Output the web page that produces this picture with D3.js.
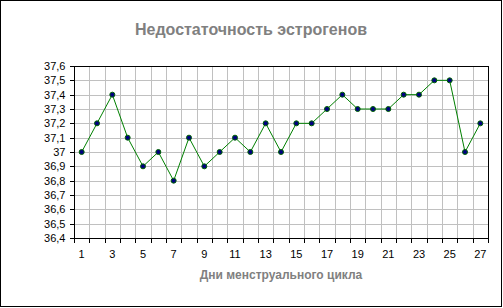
<!DOCTYPE html>
<html><head><meta charset="utf-8">
<script src="https://cdn.jsdelivr.net/npm/d3@7"></script>
<style>body{margin:0;background:#fff}svg{display:block}</style>
</head><body>
<svg id="c" width="503" height="308"></svg>
<script>
const days = d3.range(1, 28);
const temps = [37.0,37.2,37.4,37.1,36.9,37.0,36.8,37.1,36.9,37.0,37.1,37.0,37.2,37.0,37.2,37.2,37.3,37.4,37.3,37.3,37.3,37.4,37.4,37.5,37.5,37.0,37.2];
const yTicks = [36.4,36.5,36.6,36.7,36.8,36.9,37.0,37.1,37.2,37.3,37.4,37.5,37.6];
const yTickLabels = ["36,4","36,5","36,6","36,7","36,8","36,9","37","37,1","37,2","37,3","37,4","37,5","37,6"];
const xLabelDays = [1,3,5,7,9,11,13,15,17,19,21,23,25,27];
const title = "Недостаточность эстрогенов";
const xTitle = "Дни менструального цикла";
const yTitle = "Базальная температура";

const svg = d3.select("#c");
const L = 74, R = 488, T = 66, B = 238;
const font = "'Liberation Sans', Arial, sans-serif";

svg.append("rect").attr("x",0.5).attr("y",0.5).attr("width",501).attr("height",306)
  .attr("fill","#fff").attr("stroke","#000");

const x = d3.scaleBand().domain(days).range([L, R]).paddingInner(0).paddingOuter(0);
const y = d3.scaleLinear().domain([36.4, 37.6]).range([B, T]);

// gridlines
const g = svg.append("g").attr("shape-rendering","crispEdges");
g.selectAll(".hg").data(yTicks).join("line")
  .attr("x1",L).attr("x2",R).attr("y1",d=>Math.round(y(d))+0.5).attr("y2",d=>Math.round(y(d))+0.5)
  .attr("stroke","#c0c0c0");
g.selectAll(".vg").data(days.slice(1)).join("line")
  .attr("x1",d=>Math.round(x(d))+0.5).attr("x2",d=>Math.round(x(d))+0.5).attr("y1",T).attr("y2",B)
  .attr("stroke","#c0c0c0");
// frame
g.append("rect").attr("x",L+0.5).attr("y",T+0.5).attr("width",R-L).attr("height",B-T)
  .attr("fill","none").attr("stroke","#000");

// y axis
const ya = svg.append("g").attr("transform",`translate(${L+0.5},0)`)
  .call(d3.axisLeft(y).tickValues(yTicks).tickSize(5).tickPadding(4)
    .tickFormat((d,i)=>yTickLabels[i]));
ya.select(".domain").remove();
ya.selectAll("line").attr("stroke","#000").attr("shape-rendering","crispEdges");
ya.selectAll(".tick").attr("transform",d=>`translate(0,${Math.round(y(d))+0.5})`);
ya.selectAll("text").attr("font-family",font).attr("font-size",11).attr("fill","#000").attr("dy","0.35em");

// x axis ticks at boundaries
const xb = svg.append("g").attr("shape-rendering","crispEdges");
const bounds = days.map(d=>x(d)).concat([R]);
xb.selectAll("line").data(bounds).join("line")
  .attr("x1",d=>Math.round(d)+0.5).attr("x2",d=>Math.round(d)+0.5)
  .attr("y1",B).attr("y2",B+5).attr("stroke","#000");
svg.append("g").selectAll("text").data(xLabelDays).join("text")
  .attr("x",d=>x(d)+x.bandwidth()/2).attr("y",258)
  .attr("text-anchor","middle").attr("font-family",font).attr("font-size",11).attr("fill","#000")
  .text(d=>d);

// line & markers
const cx = d=>x(d)+x.bandwidth()/2;
svg.append("path").datum(days)
  .attr("d", d3.line().x(cx).y((d,i)=>y(temps[i])))
  .attr("fill","none").attr("stroke","#008000").attr("stroke-width",1);
svg.append("g").selectAll("circle").data(days).join("circle")
  .attr("cx",cx).attr("cy",(d,i)=>y(temps[i])).attr("r",2.5)
  .attr("fill","#000080").attr("stroke","#006400").attr("stroke-width",1);

// titles
svg.append("text").attr("x",251).attr("y",35).attr("text-anchor","middle")
  .attr("font-family",font).attr("font-weight","bold").attr("font-size",16).attr("fill","#808080")
  .text(title);
svg.append("text").attr("x",(L+R)/2).attr("y",279).attr("text-anchor","middle")
  .attr("font-family",font).attr("font-weight","bold").attr("font-size",12).attr("fill","#808080")
  .text(xTitle);
svg.append("clipPath").attr("id","yc").append("rect").attr("x",0).attr("y",79).attr("width",60).attr("height",200);
svg.append("text").attr("clip-path","url(#yc)")
  .attr("transform",`translate(38,${(T+B)/2}) rotate(-90)`).attr("text-anchor","middle")
  .attr("font-family",font).attr("font-weight","bold").attr("font-size",12).attr("fill","#808080")
  .text(yTitle);
</script>
</body></html>
